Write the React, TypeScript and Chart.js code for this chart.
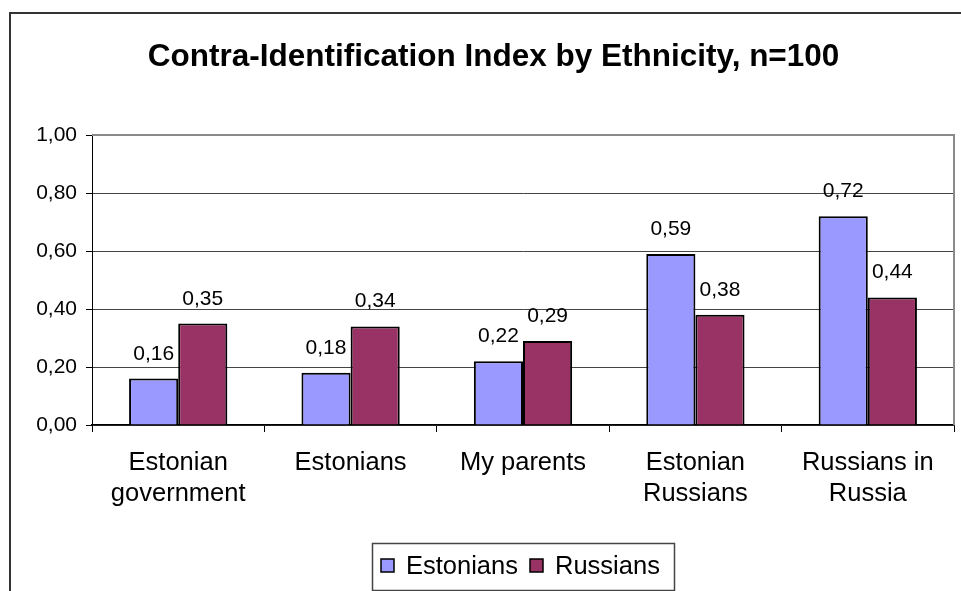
import React, { useEffect, useRef } from "react";
import { Chart, registerables } from "chart.js";

Chart.register(...registerables);

const TITLE = "Contra-Identification Index by Ethnicity, n=100";
const CATEGORIES: (string | string[])[] = [
  ["Estonian", "government"],
  "Estonians",
  "My parents",
  ["Estonian", "Russians"],
  ["Russians in", "Russia"],
];
const SERIES_NAMES = ["Estonians", "Russians"];
const ESTONIANS = [0.16, 0.18, 0.22, 0.59, 0.72];
const RUSSIANS = [0.35, 0.34, 0.29, 0.38, 0.44];
const COLORS = ["#9999FF", "#993366"];
const Y_MIN = 0;
const Y_MAX = 1;
const Y_STEP = 0.2;

const FONT = '"Liberation Sans", Arial, Helvetica, sans-serif';

const fmt = (v: number) => v.toFixed(2).replace(".", ",");

const decorPlugin = {
  id: "decor",
  beforeDraw(chart: any) {
    const ctx = chart.ctx;
    ctx.save();
    ctx.fillStyle = "#ffffff";
    ctx.fillRect(0, 0, chart.width, chart.height);
    ctx.restore();
  },
  afterDraw(chart: any) {
    const ctx = chart.ctx;
    const area = chart.chartArea;
    ctx.save();
    // outer border
    ctx.strokeStyle = "#333333";
    ctx.lineWidth = 2;
    ctx.strokeRect(10, 13, 1200, 1200);

    // plot area border top/right (gray)
    ctx.strokeStyle = "#8a8a8a";
    ctx.lineWidth = 2;
    ctx.beginPath();
    ctx.moveTo(area.left, area.top);
    ctx.lineTo(area.right, area.top);
    ctx.lineTo(area.right, area.bottom);
    ctx.stroke();

    // title
    ctx.fillStyle = "#000";
    ctx.font = `bold 31.5px ${FONT}`;
    ctx.textAlign = "center";
    ctx.textBaseline = "alphabetic";
    ctx.fillText(TITLE, 493.5, 66);

    // data labels
    ctx.font = `21px ${FONT}`;
    chart.data.datasets.forEach((ds: any, di: number) => {
      const meta = chart.getDatasetMeta(di);
      meta.data.forEach((bar: any, i: number) => {
        ctx.fillText(fmt(ds.data[i]), bar.x, bar.y - 19);
      });
    });

    // legend
    const lx = 372, ly = 543, lw = 302, lh = 47;
    ctx.strokeStyle = "#444";
    ctx.lineWidth = 1.5;
    ctx.strokeRect(lx + 0.5, ly + 0.5, lw, lh);
    ctx.font = `25.5px ${FONT}`;
    ctx.textAlign = "left";
    const items = [
      { sq: 381, tx: 406 },
      { sq: 530, tx: 555 },
    ];
    items.forEach((it, i) => {
      ctx.fillStyle = COLORS[i];
      ctx.fillRect(it.sq, 559, 13, 13);
      ctx.strokeStyle = "#000";
      ctx.lineWidth = 1.5;
      ctx.strokeRect(it.sq, 559, 13, 13);
      ctx.fillStyle = "#000";
      ctx.fillText(SERIES_NAMES[i], it.tx, 574);
    });
    ctx.restore();
  },
};

export default function App() {
  const ref = useRef<HTMLCanvasElement | null>(null);
  useEffect(() => {
    if (!ref.current) return;
    const chart = new Chart(ref.current, {
      type: "bar",
      data: {
        labels: CATEGORIES,
        datasets: [
          {
            label: SERIES_NAMES[0],
            data: ESTONIANS,
            backgroundColor: COLORS[0],
            borderColor: "#000",
            borderWidth: 2,
            categoryPercentage: 0.57,
            barPercentage: 1,
          },
          {
            label: SERIES_NAMES[1],
            data: RUSSIANS,
            backgroundColor: COLORS[1],
            borderColor: "#000",
            borderWidth: 2,
            categoryPercentage: 0.57,
            barPercentage: 1,
          },
        ],
      },
      options: {
        responsive: false,
        animation: false,
        layout: { padding: { top: 135, right: 7, left: 0, bottom: 0 } },
        plugins: {
          legend: { display: false },
          title: { display: false },
          tooltip: { enabled: false },
        },
        scales: {
          x: {
            grid: {
              offset: true,
              drawOnChartArea: false,
              drawTicks: true,
              tickLength: 7,
              color: "#000",
              tickColor: "#000",
            },
            border: { display: true, color: "#000", width: 1.5 },
            ticks: {
              color: "#000",
              font: { family: FONT, size: 25.5, lineHeight: 1.2 },
              padding: 16,
              maxRotation: 0,
              autoSkip: false,
            },
            afterFit(scale: any) {
              scale.height = 166;
            },
          },
          y: {
            min: Y_MIN,
            max: Y_MAX,
            ticks: {
              stepSize: Y_STEP,
              color: "#000",
              font: { family: FONT, size: 21 },
              padding: 9,
              callback: (v: any) => fmt(Number(v)),
            },
            grid: {
              color: "#444",
              lineWidth: 1,
              drawTicks: true,
              tickLength: 6,
              tickColor: "#000",
            },
            border: { display: true, color: "#000", width: 1 },
            afterFit(scale: any) {
              scale.width = 92;
            },
          },
        },
      },
      plugins: [decorPlugin],
    });
    return () => chart.destroy();
  }, []);
  return (
    <div style={{ position: "absolute", left: 0, top: 0, width: 961, height: 591 }}>
      <canvas ref={ref} width={961} height={591} style={{ display: "block" }} />
    </div>
  );
}
